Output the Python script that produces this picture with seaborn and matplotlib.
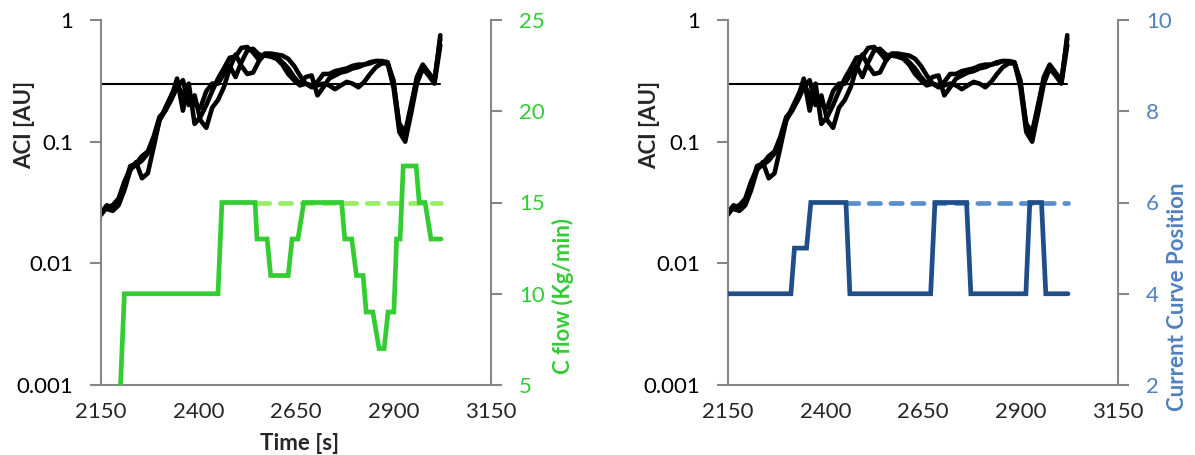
import matplotlib
matplotlib.use('Agg')
import matplotlib.pyplot as plt
import seaborn as sns
from matplotlib.ticker import NullLocator

sns.set_style('white')
plt.rcParams['font.family'] = ['Lato', 'DejaVu Sans']

# --- data ---
aci_time = [2150, 2165, 2180, 2195, 2210, 2225, 2240, 2255, 2270, 2285,
            2300, 2315, 2330, 2345, 2360, 2375, 2390, 2405, 2420, 2435,
            2450, 2465, 2480, 2495, 2510, 2525, 2540, 2555, 2570, 2585,
            2600, 2615, 2630, 2645, 2660, 2675, 2690, 2705, 2720, 2735,
            2750, 2765, 2780, 2795, 2810, 2825, 2840, 2855, 2870, 2885,
            2900, 2915, 2930, 2945, 2960, 2975, 2990, 3005, 3020]
aci_a = [0.026, 0.030, 0.028, 0.032, 0.043, 0.063, 0.066, 0.076, 0.083, 0.11,
         0.16, 0.18, 0.23, 0.33, 0.18, 0.30, 0.14, 0.16, 0.20, 0.26,
         0.33, 0.40, 0.49, 0.50, 0.59, 0.60, 0.54, 0.47, 0.52, 0.51,
         0.50, 0.45, 0.40, 0.34, 0.30, 0.34, 0.35, 0.24, 0.28, 0.33,
         0.35, 0.37, 0.38, 0.40, 0.41, 0.43, 0.45, 0.46, 0.46, 0.45,
         0.30, 0.14, 0.12, 0.20, 0.33, 0.42, 0.36, 0.31, 0.75]
aci_b = [0.027, 0.028, 0.027, 0.030, 0.040, 0.058, 0.068, 0.050, 0.055, 0.09,
         0.15, 0.18, 0.22, 0.28, 0.32, 0.20, 0.24, 0.15, 0.13, 0.19,
         0.22, 0.28, 0.40, 0.52, 0.42, 0.36, 0.37, 0.46, 0.53, 0.53,
         0.52, 0.51, 0.48, 0.42, 0.35, 0.30, 0.28, 0.29, 0.30, 0.29,
         0.27, 0.29, 0.31, 0.30, 0.28, 0.31, 0.36, 0.41, 0.44, 0.44,
         0.28, 0.12, 0.10, 0.17, 0.30, 0.40, 0.35, 0.30, 0.62]
aci_c = [0.025, 0.029, 0.030, 0.034, 0.047, 0.060, 0.064, 0.070, 0.080, 0.10,
         0.15, 0.19, 0.24, 0.30, 0.24, 0.22, 0.20, 0.19, 0.26, 0.30,
         0.30, 0.36, 0.42, 0.34, 0.45, 0.56, 0.58, 0.52, 0.51, 0.50,
         0.48, 0.43, 0.36, 0.32, 0.29, 0.30, 0.29, 0.31, 0.36, 0.36,
         0.38, 0.39, 0.40, 0.42, 0.43, 0.43, 0.44, 0.46, 0.45, 0.44,
         0.32, 0.13, 0.11, 0.19, 0.34, 0.43, 0.37, 0.32, 0.70]
thr_time = [2150, 3020]
thr_vals = [0.3, 0.3]

flow_time = [2200, 2210, 2450, 2460, 2545, 2550, 2576, 2585, 2630, 2640,
             2655, 2670, 2767, 2775, 2793, 2805, 2822, 2830, 2847, 2863,
             2876, 2886, 2901, 2908, 2917, 2925, 2958, 2966, 2981, 2996, 3022]
flow_vals = [5, 10, 10, 15, 15, 13, 13, 11, 11, 13,
             13, 15, 15, 13, 13, 11, 11, 9, 9, 7,
             7, 9, 9, 13, 13, 17, 17, 15, 15, 13, 13]
flow_ref_time = [2553, 3022]
flow_ref_vals = [15, 15]

pos_time = [2150, 2312, 2321, 2352, 2363, 2453, 2463, 2670, 2681, 2762,
            2773, 2914, 2924, 2954, 2965, 3022]
pos_vals = [4, 4, 5, 5, 6, 6, 4, 4, 6, 6, 4, 4, 6, 6, 4, 4]
pos_ref_time = [2455, 3022]
pos_ref_vals = [6, 6]

x_ticks = [2150, 2400, 2650, 2900, 3150]

GRAY = '#868686'
GREEN = '#33CC33'
LGREEN = '#99EE66'
BLUE = '#1F4E89'
LBLUE = '#5B8FCC'
BLUE_TXT = '#4F81BD'
FS = 16

W, H = 1195, 455
fig = plt.figure(figsize=(W / 100, H / 100), dpi=100)


def style_axis(ax, side_color, pad):
    ax.spines['top'].set_visible(False)
    for s in ['left', 'right', 'bottom']:
        ax.spines[s].set_color(GRAY)
        ax.spines[s].set_linewidth(1.5)
    ax.tick_params(axis='y', direction='out', length=8, width=1.5, color=GRAY,
                   labelsize=FS, pad=pad, labelcolor=side_color)


def draw_aci(ax):
    for vals in (aci_a, aci_b, aci_c):
        sns.lineplot(x=aci_time, y=vals, ax=ax, color='black', linewidth=3.3,
                     solid_joinstyle='round', solid_capstyle='round')
    sns.lineplot(x=thr_time, y=thr_vals, ax=ax, color='black', linewidth=1.5)
    ax.set_yscale('log')
    ax.set_ylim(0.001, 1)
    ax.set_xlim(2150, 3150)
    ax.set_yticks([0.001, 0.01, 0.1, 1])
    ax.set_yticklabels(['0.001', '0.01', '0.1', '1'])
    ax.yaxis.set_minor_locator(NullLocator())
    ax.set_xticks(x_ticks)
    ax.set_xticklabels([str(t) for t in x_ticks])
    style_axis(ax, 'black', 12)
    ax.spines['right'].set_visible(False)
    ax.tick_params(axis='x', direction='out', length=8, width=1.5, color=GRAY,
                   labelsize=FS, pad=4)
    ax.set_xlabel('')
    ax.set_ylabel('')


def draw_second(ax, t, v, rt, rv, c, rc, txt_c, lim, ticks):
    tw = ax.twinx()
    # reference (dashed) below, actual (solid) on top
    sns.lineplot(x=rt, y=rv, ax=tw, color=rc, linewidth=3.4, linestyle=(0, (2.4, 2.2)),
                 dash_capstyle='round', zorder=2)
    sns.lineplot(x=t, y=v, ax=tw, color=c, linewidth=3.4,
                 solid_joinstyle='miter', zorder=3)
    tw.set_ylim(*lim)
    tw.set_yticks(ticks)
    tw.set_xlim(2150, 3150)
    style_axis(tw, txt_c, 12)
    tw.spines['left'].set_visible(False)
    tw.spines['bottom'].set_visible(False)
    tw.set_ylabel('')
    return tw


ax_l = fig.add_axes([101 / W, 70 / H, 390 / W, 365 / H])
draw_aci(ax_l)
tw_l = draw_second(ax_l, flow_time, flow_vals, flow_ref_time, flow_ref_vals,
                   GREEN, LGREEN, GREEN, (5, 25), [5, 10, 15, 20, 25])

ax_r = fig.add_axes([727.7 / W, 70 / H, 390.3 / W, 365 / H])
draw_aci(ax_r)
tw_r = draw_second(ax_r, pos_time, pos_vals, pos_ref_time, pos_ref_vals,
                   BLUE, LBLUE, BLUE_TXT, (2, 10), [2, 4, 6, 8, 10])

# axis titles
fig.text(25 / W, 1 - 125 / H, 'ACI [AU]', rotation=90, ha='center', va='center',
         fontsize=FS, fontweight='bold')
fig.text(650 / W, 1 - 125 / H, 'ACI [AU]', rotation=90, ha='center', va='center',
         fontsize=FS, fontweight='bold')
fig.text(300 / W, 1 - 444 / H, 'Time [s]', ha='center', va='center',
         fontsize=FS, fontweight='bold')
fig.text(563 / W, 1 - 296 / H, 'C flow (Kg/min)', rotation=90, ha='center',
         va='center', fontsize=FS, fontweight='bold', color=GREEN)
fig.text(1178 / W, 1 - 297 / H, 'Current Curve Position', rotation=90, ha='center',
         va='center', fontsize=FS, fontweight='bold', color=BLUE_TXT)

fig.savefig('out.png', dpi=100)
